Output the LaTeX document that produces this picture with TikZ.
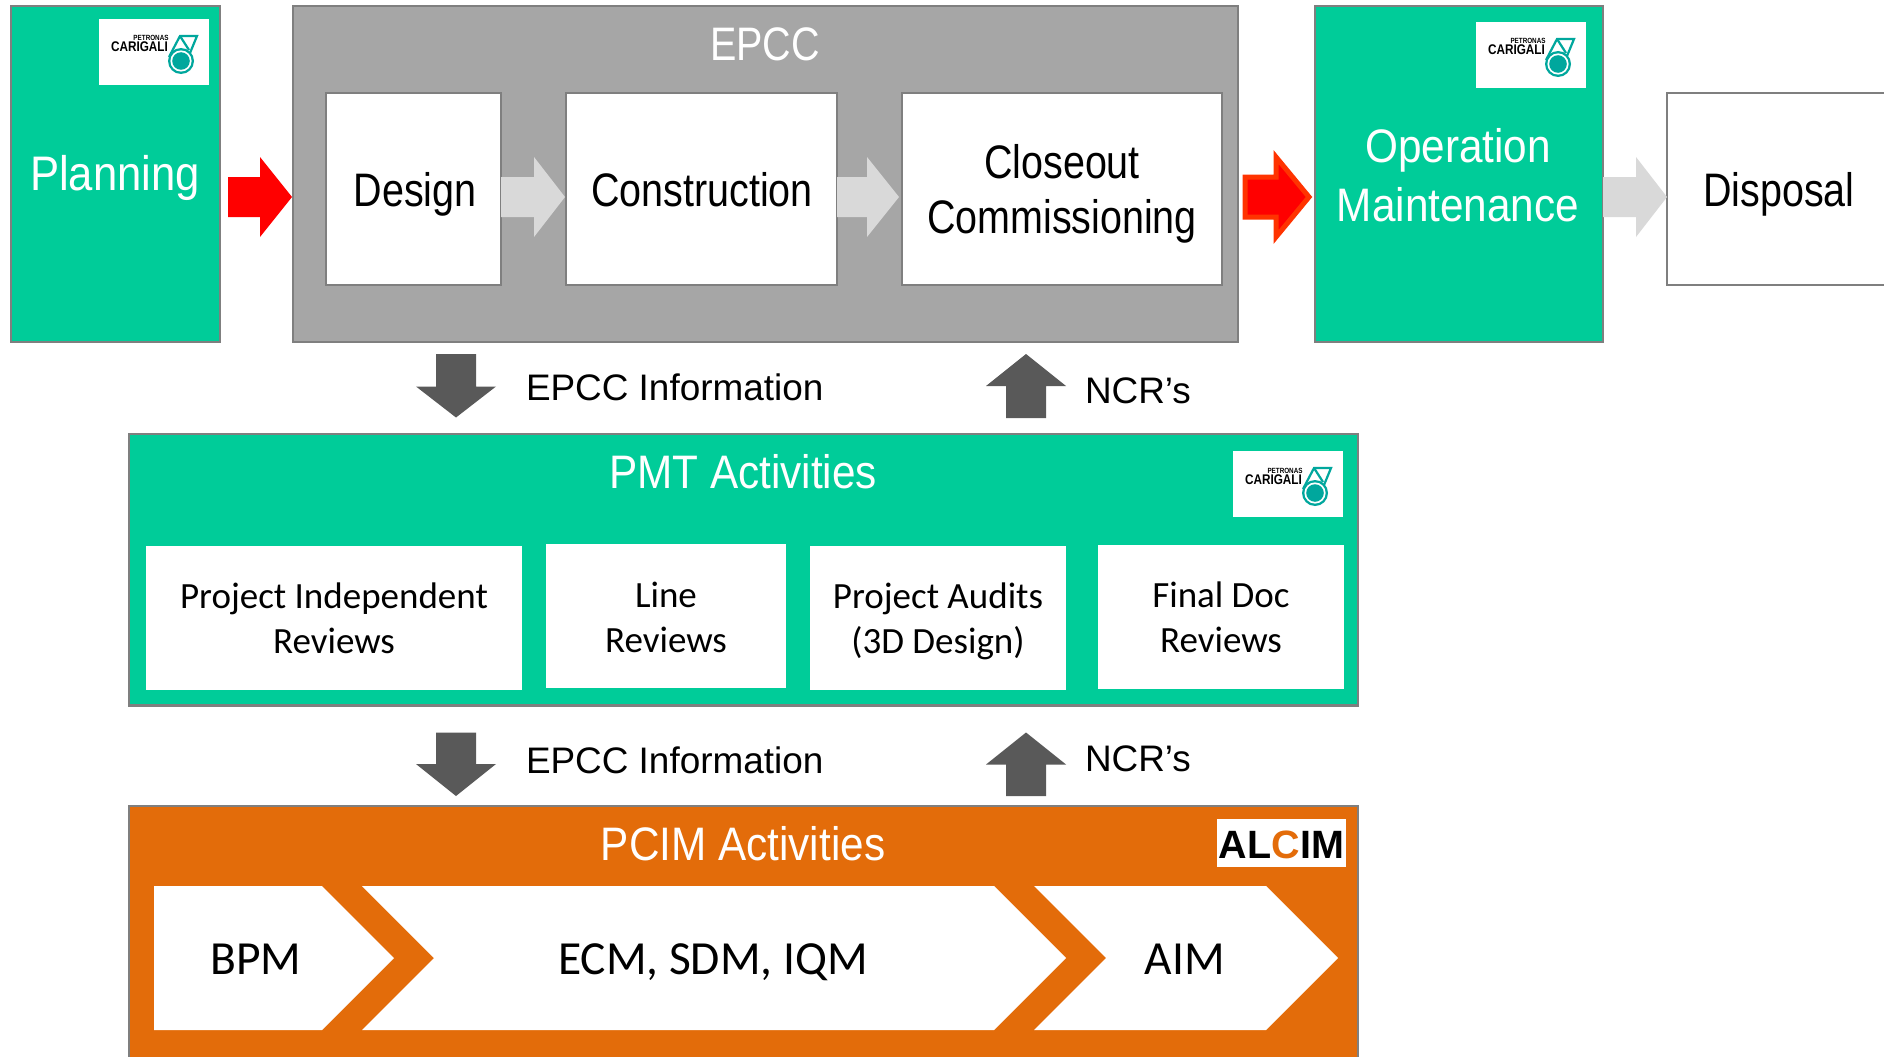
\documentclass[tikz,border=0pt]{standalone}
\usepackage{fontspec}
\usetikzlibrary{calc}
\setmainfont{Liberation Sans}
\newfontfamily\narrowA[FakeStretch=0.84]{Liberation Sans}
\newfontfamily\narrowB[FakeStretch=0.90]{Liberation Sans}
\newfontfamily\calib{Carlito}
\definecolor{greenfill}{HTML}{00CC99}
\definecolor{greyfill}{HTML}{A6A6A6}
\definecolor{edgegrey}{HTML}{7F7F7F}
\definecolor{orangefill}{HTML}{E36C0A}
\definecolor{darkarrow}{HTML}{595959}
\definecolor{lightarrow}{HTML}{D9D9D9}
\definecolor{rededge}{HTML}{FF3300}
\definecolor{teal}{HTML}{00A79D}
\tikzset{
  every node/.style={inner sep=0pt,outer sep=0pt},
  area/.style={draw=edgegrey,line width=2.5pt,rectangle},
  greenarea/.style={area,fill=greenfill},
  greyarea/.style={area,fill=greyfill},
  orangearea/.style={area,fill=orangefill},
  whitebox/.style={draw=edgegrey,line width=2.2pt,fill=white,rectangle},
  plainbox/.style={fill=white,rectangle},
  titlewhite/.style={anchor=base,text=white,font=\fontsize{47}{47}\selectfont\narrowB},
  titlegrey/.style={anchor=base,text=white,font=\fontsize{47}{47}\selectfont\narrowA},
  stepblack/.style={anchor=base,text=black,font=\fontsize{47}{47}\selectfont\narrowA},
  flowlabel/.style={anchor=base west,text=black,font=\fontsize{36.9}{36.9}\selectfont},
  revtext/.style={anchor=base,text=black,font=\fontsize{37}{37}\selectfont\calib},
  chevtext/.style={anchor=base,text=black,font=\fontsize{47.5}{47.5}\selectfont\calib},
  redarrow/.style={fill=red},
  redarrowedge/.style={fill=red,draw=rededge,line width=5pt,miter limit=10},
  greyarrow/.style={fill=lightarrow},
  darkblock/.style={fill=darkarrow},
  pics/carigali/.style={code={
    \node[plainbox,anchor=north west,minimum width=110pt,minimum height=66pt] (-bg) at (0,0) {};
    \node[anchor=base,text=black,font=\fontsize{7.5}{7.5}\selectfont\narrowA\bfseries] (-pet) at (52,22) {PETRONAS};
    \node[anchor=base,text=black,font=\fontsize{14}{14}\selectfont\narrowA\bfseries] (-car) at (40.5,33) {CARIGALI};
    \draw[teal,line width=2.2pt,line join=miter] (70,38) -- (81,17) -- (98,17) -- (91,34);
    \draw[teal,line width=2.2pt] (81,17) -- (90,31);
    \fill[teal] (82,42) circle (13);
    \fill[white] (82,42) circle (10.6);
    \fill[teal] (82,42) circle (8.8);
  }}
}
% area boxes: name, style, x1, y1, x2, y2
\newcommand{\boxat}[6]{\node[#2,minimum width={(#5)-(#3)},minimum height={(#6)-(#4)}] (#1) at ({((#3)+(#5))/2},{((#4)+(#6))/2}) {};}
% horizontal block arrow: style, start, tip, head length, shaft half width, head half width
\newcommand{\hblock}[6]{\path[#1] let \p1=(#2),\p2=(#3) in
  (\x1,\y1+#5pt) -- (\x2-#4pt,\y1+#5pt) -- (\x2-#4pt,\y1+#6pt) -- (\x2,\y1) -- (\x2-#4pt,\y1-#6pt) -- (\x2-#4pt,\y1-#5pt) -- (\x1,\y1-#5pt) -- cycle;}
% vertical block arrow: style, start, tip, signed head length, shaft half width, head half width
\newcommand{\vblock}[6]{\path[#1] let \p1=(#2),\p2=(#3) in
  (\x1-#5pt,\y1) -- (\x1-#5pt,\y2+#4pt) -- (\x1-#6pt,\y2+#4pt) -- (\x2,\y2) -- (\x1+#6pt,\y2+#4pt) -- (\x1+#5pt,\y2+#4pt) -- (\x1+#5pt,\y1) -- cycle;}
\begin{document}
\begin{tikzpicture}[x=1pt,y=-1pt]
\path[use as bounding box,clip] (0,0) rectangle (1884,1057);
\fill[white] (0,0) rectangle (1884,1057);

% top row
\boxat{planning}{greenarea}{11}{6}{220}{342}
\boxat{epcc}{greyarea}{293}{6}{1238}{342}
\boxat{design}{whitebox}{326}{93}{501}{285}
\boxat{construction}{whitebox}{566}{93}{837}{285}
\boxat{closeout}{whitebox}{902}{93}{1222}{285}
\boxat{operation}{greenarea}{1315}{6}{1603}{342}
\boxat{disposal}{whitebox}{1667}{93}{1900}{285}

\coordinate (flow) at (0,197);
\hblock{redarrow}{$(planning.east |- flow)+(8,0)$}{$(epcc.west |- flow)+(-1,0)$}{32}{20}{40}
\hblock{greyarrow}{design.east |- flow}{$(construction.west |- flow)+(-1,0)$}{31}{20}{40}
\hblock{greyarrow}{construction.east |- flow}{$(closeout.west |- flow)+(-3,0)$}{32}{20}{40}
\hblock{redarrowedge}{$(epcc.east |- flow)+(7,0)$}{$(operation.west |- flow)+(-6,0)$}{33}{20}{40}
\hblock{greyarrow}{operation.east |- flow}{disposal.west |- flow}{31}{20}{40}

\pic (logoa) at (99,19) {carigali};
\pic (logob) at (1476,22) {carigali};

\node[titlewhite,font=\fontsize{48.5}{48.5}\selectfont\narrowB] (tplanning) at (115,190.5) {Planning};
\node[titlegrey] (tepcc) at (765,61) {EPCC};
\node[stepblack] (tdesign) at (415,206) {Design};
\node[stepblack] (tconstruction) at (702,206) {Construction};
\node[stepblack] (tcloseout) at (1062,178) {Closeout};
\node[stepblack] (tcomm) at (1062,233.5) {Commissioning};
\node[titlewhite] (toper) at (1458,162) {Operation};
\node[titlewhite] (tmaint) at (1458,221) {Maintenance};
\node[stepblack] (tdisposal) at (1779,206.5) {Disposal};

% PMT
\boxat{pmt}{greenarea}{129}{434}{1358}{705.5}
\boxat{rindep}{plainbox}{146}{546}{522}{690}
\boxat{rline}{plainbox}{546}{544}{786}{688}
\boxat{raudit}{plainbox}{810}{546}{1066}{690}
\boxat{rfinal}{plainbox}{1098}{545}{1344}{689}
\pic (logoc) at (1233,451) {carigali};
\node[titlewhite] (tpmt) at (743,488.5) {PMT Activities};
\node[revtext] (r1a) at (334,608) {Project Independent};
\node[revtext] (r1b) at (334,653) {Reviews};
\node[revtext] (r2a) at (666,607) {Line};
\node[revtext] (r2b) at (666,652) {Reviews};
\node[revtext] (r3a) at (938,608) {Project Audits};
\node[revtext] (r3b) at (938,653) {(3D Design)};
\node[revtext] (r4a) at (1221,607) {Final Doc};
\node[revtext] (r4b) at (1221,652) {Reviews};

% PCIM
\boxat{pcim}{orangearea}{129}{806}{1358}{1080}
\path[fill=white] (154,886) -- (322,886) -- (394,958) -- (322,1030) -- (154,1030) -- cycle;
\path[fill=white] (362,886) -- (994,886) -- (1066,958) -- (994,1030) -- (362,1030) -- (434,958) -- cycle;
\path[fill=white] (1034,886) -- (1266,886) -- (1338,958) -- (1266,1030) -- (1034,1030) -- (1106,958) -- cycle;
\node[plainbox,minimum width=129pt,minimum height=48pt] (alcimbg) at (1281.5,843) {};
\node[anchor=base,text=black,font=\fontsize{39.5}{39.5}\selectfont\bfseries] (alcim) at (1281.5,858) {AL\textcolor{orangefill}{C}IM};
\node[titlewhite] (tpcim) at (743,860.5) {PCIM Activities};
\node[chevtext] (cbpm) at (256,974) {BPM};
\node[chevtext] (cecm) at (713,974) {ECM, SDM, IQM};
\node[chevtext] (caim) at (1185,974) {AIM};

% vertical arrows, first gap
\coordinate (dnx) at (456,0);
\coordinate (upx) at (1026,0);
\vblock{darkblock}{$(dnx |- epcc.south)+(0,12)$}{$(dnx |- pmt.north)+(0,-16.5)$}{31}{20}{40}
\vblock{darkblock}{$(upx |- pmt.north)+(0,-16)$}{$(upx |- epcc.south)+(0,12)$}{-32}{20}{40}
\node[flowlabel] (linfo) at (526,400) {EPCC Information};
\node[flowlabel] (lncr) at (1085,403) {NCR’s};

% vertical arrows, second gap
\vblock{darkblock}{$(dnx |- pmt.south)+(0,27)$}{$(dnx |- pcim.north)+(0,-10)$}{32}{20}{40}
\vblock{darkblock}{$(upx |- pcim.north)+(0,-10)$}{$(upx |- pmt.south)+(0,27)$}{-32}{20}{40}
\node[flowlabel] (linfob) at (526,773) {EPCC Information};
\node[flowlabel] (lncrb) at (1085,771) {NCR’s};
\end{tikzpicture}
\end{document}
